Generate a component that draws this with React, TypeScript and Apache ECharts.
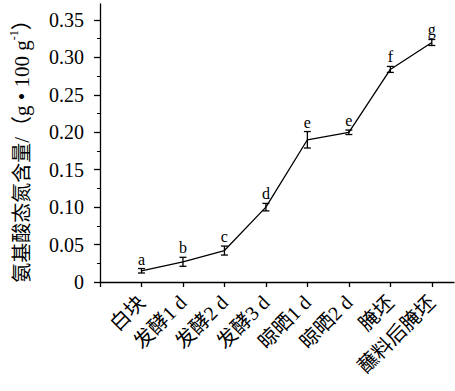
import React, { useEffect, useRef } from "react";
import * as echarts from "echarts";

const categories = ["白块", "发酵1 d", "发酵2 d", "发酵3 d", "晾晒1 d", "晾晒2 d", "腌坯", "蘸料后腌坯"];
const values = [0.015, 0.027, 0.042, 0.100, 0.190, 0.200, 0.284, 0.320];
const errors = [0.003, 0.006, 0.006, 0.005, 0.011, 0.003, 0.004, 0.004];
const letters = ["a", "b", "c", "d", "e", "e", "f", "g"];
const yTicks = [0, 0.05, 0.1, 0.15, 0.2, 0.25, 0.3, 0.35];
const yMinorTicks = [0.025, 0.075, 0.125, 0.175, 0.225, 0.275, 0.325];
const xTickPositions = [0, 1, 2, 3, 4, 5, 6, 7, 8];
const xLabelPositions = [1, 2, 3, 4, 5, 6, 7, 8];

const FONT = "'Liberation Serif', 'Noto Sans CJK SC', serif";

export default function App() {
  const ref = useRef<HTMLDivElement>(null);
  useEffect(() => {
    if (!ref.current) return;
    const chart = echarts.init(ref.current, null, { renderer: "svg" });
    const lineData = values.map((v, i) => [i + 1, v]);
    const errData = values.map((v, i) => [i + 1, v, errors[i], i]);
    const yMax = 0.3714;
    const xMax = 8.535;
    chart.setOption({
      animation: false,
      textStyle: { fontFamily: FONT, color: "#000" },
      grid: { left: 98, top: 4, right: 1, bottom: 109, containLabel: false },
      xAxis: {
        type: "value",
        min: 0,
        max: xMax,
        interval: 1,
        splitLine: { show: false },
        axisLine: { show: true, onZero: false, lineStyle: { color: "#000", width: 1.3 } },
        axisTick: { show: true, length: 5, customValues: xTickPositions, lineStyle: { color: "#000", width: 1.3 } },
        axisLabel: {
          customValues: xLabelPositions,
          rotate: 45,
          margin: 17,
          fontSize: 20,
          fontFamily: FONT,
          color: "#000",
          formatter: (v: number) => categories[Math.round(v) - 1] ?? "",
        },
      },
      yAxis: [
        {
          type: "value",
          min: 0,
          max: yMax,
          interval: 0.05,
          splitLine: { show: false },
          axisLine: { show: true, lineStyle: { color: "#000", width: 1.3 } },
          axisTick: { show: true, length: 6, customValues: yTicks, lineStyle: { color: "#000", width: 1.3 } },
          axisLabel: {
            customValues: yTicks,
            margin: 16,
            fontSize: 20,
            fontFamily: FONT,
            color: "#000",
            formatter: (v: number) => (v === 0 ? "0" : v.toFixed(2)),
          },
          name: "{c|氨基酸态氮含量}{t|/（g • 100 g}{sup|-1}{t|）}",
          nameLocation: "middle",
          nameGap: 68,
          nameRotate: 90,
          nameTextStyle: {
            fontFamily: FONT,
            color: "#000",
            fontSize: 20,
            padding: [0, 6, 0, 0],
            rich: {
              c: { fontSize: 20, fontFamily: FONT, color: "#000", lineHeight: 24, verticalAlign: "bottom" },
              t: { fontSize: 21, fontFamily: FONT, color: "#000", lineHeight: 24, verticalAlign: "bottom" },
              sup: { fontSize: 12, fontFamily: FONT, color: "#000", lineHeight: 24, verticalAlign: "top" },
            },
          },
        },
        {
          type: "value",
          min: 0,
          max: yMax,
          position: "left",
          splitLine: { show: false },
          axisLine: { show: false },
          axisTick: { show: true, length: 3, customValues: yMinorTicks, lineStyle: { color: "#000", width: 1 } },
          axisLabel: { show: false },
        },
      ],
      series: [
        {
          type: "line",
          data: lineData,
          symbol: "none",
          lineStyle: { color: "#000", width: 1.3 },
          z: 2,
        },
        {
          type: "custom",
          data: errData,
          z: 3,
          renderItem: (params: any, api: any) => {
            const x = api.value(0);
            const v = api.value(1);
            const e = api.value(2);
            const idx = api.value(3);
            const top = api.coord([x, v + e]);
            const bot = api.coord([x, v - e]);
            const hw = 3.5;
            const ls = { stroke: "#000", lineWidth: 1.3 };
            return {
              type: "group",
              children: [
                { type: "line", shape: { x1: top[0], y1: top[1], x2: bot[0], y2: bot[1] }, style: ls },
                { type: "line", shape: { x1: top[0] - hw, y1: top[1], x2: top[0] + hw, y2: top[1] }, style: ls },
                { type: "line", shape: { x1: bot[0] - hw, y1: bot[1], x2: bot[0] + hw, y2: bot[1] }, style: ls },
                {
                  type: "text",
                  style: {
                    text: letters[idx],
                    x: top[0],
                    y: top[1] - 1.5,
                    align: "center",
                    verticalAlign: "bottom",
                    fontSize: 16,
                    fontFamily: FONT,
                    fill: "#000",
                  },
                },
              ],
            };
          },
        },
      ],
    });
    return () => chart.dispose();
  }, []);
  return (
    <div
      ref={ref}
      style={{ position: "fixed", left: 0, top: 0, width: 455, height: 391, background: "#fff" }}
    />
  );
}
